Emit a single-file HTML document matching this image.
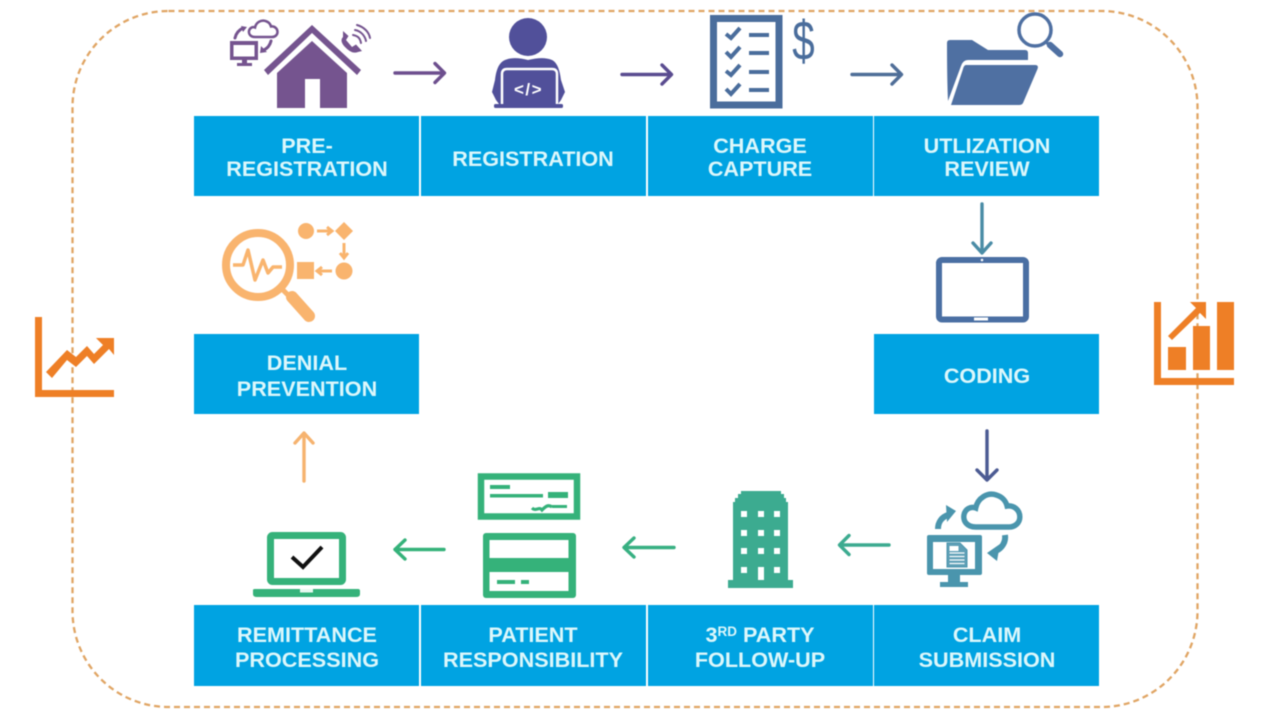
<!DOCTYPE html>
<html lang="en">
<head>
<meta charset="utf-8">
<title>Revenue cycle diagram</title>
<style>
html,body{margin:0;padding:0;background:#fff;width:1266px;height:724px;overflow:hidden}
svg{display:block;filter:blur(.6px)}
.t{font-family:"Liberation Sans",sans-serif;font-weight:700;font-size:21.6px;fill:#dcf7fb;text-anchor:middle}
</style>
</head>
<body>
<svg width="1266" height="724" viewBox="0 0 1266 724" xmlns="http://www.w3.org/2000/svg">
<rect width="1266" height="724" fill="#fff"/>
<!-- dashed frame -->
<rect x="72.500" y="11" width="1125" height="696" rx="96" ry="96" fill="none" stroke="#e0a564" stroke-width="2.300" stroke-dasharray="6 4"/>

<!-- boxes -->
<g fill="#00a3e2">
<rect x="194" y="116" width="225" height="80"/>
<rect x="421" y="116" width="225" height="80"/>
<rect x="648" y="116" width="225" height="80"/>
<rect x="874" y="116" width="225" height="80"/>
<rect x="194" y="334" width="225" height="80"/>
<rect x="874" y="334" width="225" height="80"/>
<rect x="194" y="605" width="225" height="81"/>
<rect x="421" y="605" width="225" height="81"/>
<rect x="648" y="605" width="225" height="81"/>
<rect x="874" y="605" width="225" height="81"/>
</g>

<!-- labels -->
<text class="t" x="307" y="153">PRE-</text>
<text class="t" x="307" y="176">REGISTRATION</text>
<text class="t" x="533" y="166">REGISTRATION</text>
<text class="t" x="760" y="153">CHARGE</text>
<text class="t" x="760" y="176">CAPTURE</text>
<text class="t" x="987" y="153">UTLIZATION</text>
<text class="t" x="987" y="176">REVIEW</text>
<text class="t" x="987" y="383">CODING</text>
<text class="t" x="307" y="370">DENIAL</text>
<text class="t" x="307" y="396">PREVENTION</text>
<text class="t" x="307" y="642">REMITTANCE</text>
<text class="t" x="307" y="667">PROCESSING</text>
<text class="t" x="533" y="642">PATIENT</text>
<text class="t" x="533" y="667">RESPONSIBILITY</text>
<text class="t" x="760" y="642">3<tspan font-size="13.500" dy="-6">RD</tspan><tspan dy="6"> PARTY</tspan></text>
<text class="t" x="760" y="667">FOLLOW-UP</text>
<text class="t" x="987" y="642">CLAIM</text>
<text class="t" x="987" y="667">SUBMISSION</text>

<!-- arrows -->
<g fill="none" stroke-width="3.400" stroke-linecap="round" stroke-linejoin="round">
<path d="M395 73H444M435 63.500L444.500 73L435 82.500" stroke="#6d4f8e"/>
<path d="M622 74.500H671M662 65L671.500 74.500L662 84" stroke="#5a4c90"/>
<path d="M852 74.500H901M892 65L901.500 74.500L892 84" stroke="#4f6e98"/>
<path d="M982 204V252M973 243L982 253L991 243" stroke="#4a8ca6"/>
<path d="M987 431V479M977 470L987 480L997 470" stroke="#4c5b93"/>
<path d="M889 545H840M849 535.500L839.500 545L849 554.500" stroke="#3cab90"/>
<path d="M674 547.500H625M634 538L624 547.500L634 557" stroke="#38b082"/>
<path d="M444 549.500H395M405 540L395 549.500L405 559" stroke="#35b27a"/>
<path d="M304 481V434M295 443L304 433L313 443" stroke="#f6b36f"/>
</g>

<!-- house icon -->
<g fill="#75548f">
<path d="M312 25L361 70L357 75L312 33L268 75L264 70Z"/>
<path d="M312 41L347 73V108H320V79H305V108H277V73Z"/>
<path d="M230 41H258V60H247V63H252V66H237V63H242V60H230ZM233.500 45V56.500H254.500V45Z" fill-rule="evenodd"/>
<path d="M343 37C340 40 342 44 345 47C349 51 353 54 358 52L362 51L356 44.500L352 47L346 40L348.500 36L343 31Z"/>
</g>
<g fill="none" stroke="#75548f" stroke-width="2" stroke-linecap="round">
<path transform="translate(248,19) scale(.5)" stroke-width="5" d="M14 36C5 36 1 30 2 24C3 18 9 15 14 17C16 7 26 1 35 4C42 6 45 11 46 15C53 14 59 19 59 26C59 32 54 36 48 36Z"/>
<path d="M353 35C358 36 360 38 361 43"/>
<path d="M355 30C361 31 365 36 366 41"/>
<path d="M357 25C364 27 369 32 370 38"/>
<path d="M235 38C236 33 239 30 243 28" stroke-width="3"/>
<path d="M271 41C270 45 268 48 264 50" stroke-width="3"/>
</g>
<path d="M241 26L247 27L243 32ZM261 46L267 52L260 53Z" fill="#75548f"/>

<!-- person with laptop -->
<g fill="#51509a">
<circle cx="528" cy="37" r="19"/>
<path d="M505 60C512 57 520 58 528 60C537 58 545 57 552 60C558 63 560 72 561 80L565 92L561 100L558 104H499L496 100L492 92L495 80C496 72 498 63 505 60Z"/>
</g>
<path d="M502 104V74Q502 69 507 69H552Q557 69 557 74V104" fill="#51509a" stroke="#fff" stroke-width="2.500"/>
<rect x="494" y="104" width="69" height="4" rx="1.500" fill="#51509a"/>
<text x="528.500" y="95" text-anchor="middle" font-family="'Liberation Sans',sans-serif" font-weight="700" font-size="17" letter-spacing="1.500" fill="#fff">&lt;/&gt;</text>

<!-- checklist -->
<rect x="713.500" y="18.500" width="65.500" height="86.500" fill="none" stroke="#4a6d9c" stroke-width="7"/>
<g fill="none" stroke="#4a6d9c" stroke-width="4">
<path d="M726 34L731 38L740 28M726 52L731 57L740 47M726 71L731 75L740 65M726 89L731 94L740 84"/>
</g>
<g fill="#4a6d9c">
<rect x="749" y="33" width="20" height="4"/>
<rect x="749" y="51" width="20" height="4"/>
<rect x="749" y="70" width="20" height="4"/>
<rect x="749" y="88" width="20" height="4"/>
</g>
<text transform="translate(803.500,60) scale(.72,1)" text-anchor="middle" font-family="'Liberation Sans',sans-serif" font-size="56" fill="#4a6d9c">$</text>

<!-- folder -->
<g fill="#4f70a2">
<path d="M950 40H972L988 50H1025Q1028 50 1028 53V60H968Q963 60 961 66L948 101Q947 80 947 43Q947 40 950 40Z"/>
<path d="M966 65H1035Q1039 65 1037.500 69L1023 103Q1022 105 1019 105H951L963 69Q964 65 966 65Z"/>
</g>
<circle cx="1035" cy="30" r="16" fill="none" stroke="#4f70a2" stroke-width="3.500"/>
<path d="M1046 42L1050 46" stroke="#4f70a2" stroke-width="3" fill="none"/>
<path d="M1050 45L1060 54" stroke="#4f70a2" stroke-width="6.500" stroke-linecap="round" fill="none"/>

<!-- tablet -->
<rect x="939" y="260" width="87" height="59.500" rx="3" fill="none" stroke="#4a6fa3" stroke-width="6"/>
<circle cx="982" cy="260" r="1.300" fill="#fff"/>
<rect x="974" y="317.500" width="14" height="3" fill="#fff"/>

<!-- denial icon -->
<g fill="none" stroke="#f9b46e">
<circle cx="258" cy="265" r="32" stroke-width="8"/>
<path d="M233 265H243L248 250L255 280L263 260L268 273L273 267H282" stroke-width="3.500" stroke-linejoin="round"/>
<path d="M282 289L288 295" stroke-width="5"/>
<path d="M292 297L309 316" stroke-width="12" stroke-linecap="round"/>
<path d="M317 231H331M327 227L332 231L327 235M344 243V257M340 253L344 258L348 253M332 271H318M322 267L317 271L322 275" stroke-width="3"/>
</g>
<g fill="#f9b46e">
<circle cx="306" cy="231" r="8"/>
<path d="M344 222L353 231L344 240L335 231Z"/>
<circle cx="344" cy="271" r="8.500"/>
<rect x="297" y="262" width="17" height="17"/>
</g>

<!-- laptop -->
<rect x="270.500" y="535.500" width="72" height="46" rx="2" fill="#fff" stroke="#35b27a" stroke-width="7"/>
<path d="M253 590Q253 589 255 589H358Q360 589 360 591V594Q360 597 356 597H257Q253 597 253 594Z" fill="#35b27a"/>
<rect x="300" y="589" width="13" height="3.500" fill="#e8f8f0"/>
<path d="M292 557L303 567L322 547" fill="none" stroke="#111" stroke-width="4"/>

<!-- check -->
<rect x="481" y="476.500" width="96" height="40" fill="#fff" stroke="#35b27a" stroke-width="6.500"/>
<g fill="#35b27a">
<rect x="490" y="485" width="20" height="4"/>
<rect x="490" y="494" width="53" height="3.500"/>
<rect x="548" y="492" width="20" height="6"/>
<rect x="552" y="505" width="15" height="3"/>
</g>
<path d="M532 508C536 512 539 506 542 510C545 507 548 504 552 507" fill="none" stroke="#35b27a" stroke-width="3.200"/>

<!-- card -->
<rect x="483" y="533" width="93" height="65" rx="3" fill="#35b27a"/>
<rect x="489.500" y="540" width="79" height="18" fill="#fff"/>
<rect x="489.500" y="572" width="79" height="19" fill="#fff"/>
<rect x="497" y="580" width="18" height="4" fill="#35b27a"/>
<rect x="521" y="580" width="8" height="4" fill="#35b27a"/>

<!-- building -->
<path d="M741 491H781V494H784V498H786V502H788V580H793V588H728V580H733V502H735V498H738V494H741Z" fill="#3cab90"/>
<g fill="#fff">
<rect x="741" y="511" width="6" height="6"/><rect x="758" y="511" width="6" height="6"/><rect x="774" y="511" width="6" height="6"/>
<rect x="741" y="530" width="6" height="6"/><rect x="758" y="530" width="6" height="6"/><rect x="774" y="530" width="6" height="6"/>
<rect x="741" y="548" width="6" height="6"/><rect x="758" y="548" width="6" height="6"/><rect x="774" y="548" width="6" height="6"/>
<rect x="741" y="567" width="6" height="6"/><rect x="758" y="567" width="6" height="13"/><rect x="774" y="567" width="6" height="6"/>
</g>

<!-- claim icon -->
<rect x="927" y="535" width="55" height="40" rx="2" fill="#4a95ad"/>
<rect x="933" y="542" width="42" height="27" fill="#fff"/>
<path d="M948 575H960V582H968V587H940V582H948Z" fill="#4a95ad"/>
<path d="M947 543H960L967 550V567H947Z" fill="#5e9fb6" stroke="#4a95ad" stroke-width="1"/>
<path d="M949.500 553H964.500M949.500 556.500H964.500M949.500 560H964.500M949.500 563.500H964.500" stroke="#fff" stroke-width="1.200"/>
<path d="M949.500 546H958.500V551H949.500Z" fill="#fff"/>
<path transform="translate(962,491) scale(.98,1)" d="M14 36C5 36 1 30 2 24C3 18 9 15 14 17C16 7 26 1 35 4C42 6 45 11 46 15C53 14 59 19 59 26C59 32 54 36 48 36Z" fill="#fff" stroke="#4a95ad" stroke-width="5.500"/>
<g fill="none" stroke="#4a95ad" stroke-width="6">
<path d="M938 529C938 522 942 517 948 515"/>
<path d="M1005 535C1006 542 1002 548 996 551"/>
</g>
<path d="M946 505L956 511L947 522ZM1000 544L997 561L987 553Z" fill="#4a95ad"/>

<!-- side charts -->
<g fill="#ee7f26">
<path d="M35 317H42V390H114V397H35Z"/>
<path d="M96 338H114V355L109 349L94 364L87 356L76 367L67 360L52 378L46 372L67 350L76 357L87 346L94 354L103 345Z"/>
<path d="M1154 302H1161V378H1234V385H1154Z"/>
<rect x="1168" y="347" width="18" height="23"/>
<rect x="1193" y="326" width="17" height="44"/>
<rect x="1217" y="302" width="17" height="68"/>
<path d="M1190 302H1206V319L1200 313L1172 340L1168 336L1196 308Z"/>
</g>
</svg>
</body>
</html>
